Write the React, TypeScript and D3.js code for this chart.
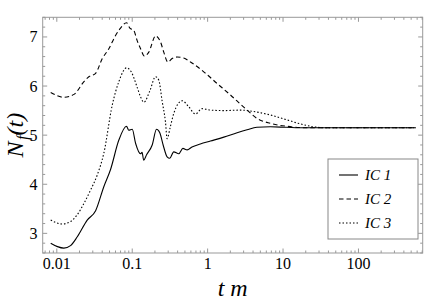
import React from "react";
import * as d3 from "d3";

const W = 425, H = 300;
const M = { left: 42.7, right: 422.7, top: 17.3, bottom: 253 };

const xDomain: [number, number] = [0.0065, 711];
const yDomain: [number, number] = [2.6, 7.4];
const xTickValues = [0.01, 0.1, 1, 10, 100];
const xTickLabels = ["0.01", "0.1", "1", "10", "100"];
const yTickValues = [3, 4, 5, 6, 7];
const legendLabels = ["IC 1", "IC 2", "IC 3"];

// IC 1 (solid)
const ic1: [number, number][] = [
  [0.0083, 2.8], [0.0102, 2.73], [0.0124, 2.7], [0.0152, 2.75], [0.0187, 2.93],
  [0.0253, 3.27], [0.0327, 3.46], [0.042, 3.95], [0.0516, 4.3], [0.0665, 4.9],
  [0.084, 5.18], [0.09, 5.1], [0.1, 5.12], [0.111, 4.83], [0.129, 4.62],
  [0.135, 4.65], [0.142, 4.49], [0.155, 4.6], [0.184, 4.8], [0.21, 5.12],
  [0.232, 5.05], [0.257, 4.8], [0.29, 4.56], [0.315, 4.53], [0.355, 4.66],
  [0.415, 4.62], [0.47, 4.73], [0.535, 4.7], [0.62, 4.76], [0.8, 4.82],
  [1.09, 4.88], [1.64, 4.96], [2.46, 5.05], [3.33, 5.11], [4.5, 5.16],
  [6.8, 5.17], [11, 5.16], [20, 5.15], [40, 5.15], [100, 5.15], [575, 5.15],
];

// IC 2 (dashed)
const ic2: [number, number][] = [
  [0.0083, 5.87], [0.0124, 5.77], [0.0169, 5.83], [0.0229, 6.09], [0.0266, 6.19],
  [0.0327, 6.26], [0.0401, 6.56], [0.049, 6.76], [0.0601, 7.03], [0.07, 7.18],
  [0.084, 7.29], [0.093, 7.18], [0.105, 7.13], [0.116, 6.93], [0.129, 6.76],
  [0.145, 6.61], [0.166, 6.69], [0.204, 7.02], [0.237, 6.9], [0.262, 6.69],
  [0.297, 6.49], [0.339, 6.56], [0.394, 6.59], [0.482, 6.57], [0.592, 6.49],
  [0.888, 6.29], [1.34, 6.05], [2.0, 5.82], [2.73, 5.63], [3.33, 5.51],
  [4.53, 5.34], [6.8, 5.24], [11.3, 5.18], [20.8, 5.15], [40, 5.15], [100, 5.15], [575, 5.15],
];

// IC 3 (dotted)
const ic3: [number, number][] = [
  [0.0083, 3.27], [0.0118, 3.19], [0.0152, 3.24], [0.0187, 3.38], [0.0229, 3.61],
  [0.028, 3.88], [0.0344, 4.19], [0.042, 4.63], [0.0543, 5.61], [0.0665, 6.09],
  [0.084, 6.37], [0.097, 6.29], [0.116, 5.98], [0.129, 5.78], [0.143, 5.67],
  [0.171, 5.9], [0.204, 6.19], [0.225, 6.12], [0.25, 5.68], [0.276, 5.27],
  [0.29, 4.93], [0.32, 5.17], [0.355, 5.44], [0.46, 5.7], [0.56, 5.58],
  [0.69, 5.43], [0.84, 5.54], [1.09, 5.51], [1.64, 5.5], [2.73, 5.51],
  [4.1, 5.48], [6.8, 5.41], [11.3, 5.31], [16.9, 5.23], [25.4, 5.17],
  [38, 5.15], [100, 5.15], [575, 5.15],
];

const series = [
  { data: ic1, dash: "none" },
  { data: ic2, dash: "4.5,3" },
  { data: ic3, dash: "1.5,2" },
];

const FF = `"Liberation Serif"`;

export default function App() {
  const x = d3.scaleLog().domain(xDomain).range([M.left, M.right]);
  const y = d3.scaleLinear().domain(yDomain).range([M.bottom, M.top]);
  const line = d3.line<[number, number]>().x((d) => x(d[0])).y((d) => y(d[1])).curve(d3.curveMonotoneX);

  const xMinor: number[] = [];
  for (let e = -3; e <= 2; e++) {
    for (let k = 2; k <= 9; k++) {
      const v = k * Math.pow(10, e);
      if (v > xDomain[0] && v < xDomain[1]) xMinor.push(v);
    }
  }
  const yMinor = d3.range(2.6, 7.41, 0.2).filter((v) => Math.abs(v - Math.round(v)) > 0.01);
  const tickColor = "#999";

  return (
    <svg width={W} height={H} style={{ position: "absolute", left: 0, top: 0 }}>
      <rect x={0} y={0} width={W} height={H} fill="#fff" />
      <defs>
        <clipPath id="clip">
          <rect x={M.left} y={M.top} width={M.right - M.left} height={M.bottom - M.top} />
        </clipPath>
      </defs>
      <rect x={M.left} y={M.top} width={M.right - M.left} height={M.bottom - M.top} fill="none" stroke={tickColor} />
      {xTickValues.map((v) => (
        <g key={"xt" + v}>
          <line x1={x(v)} x2={x(v)} y1={M.bottom} y2={M.bottom - 4.5} stroke={tickColor} />
          <line x1={x(v)} x2={x(v)} y1={M.top} y2={M.top + 4.5} stroke={tickColor} />
        </g>
      ))}
      {xMinor.map((v) => (
        <g key={"xm" + v}>
          <line x1={x(v)} x2={x(v)} y1={M.bottom} y2={M.bottom - 2.5} stroke={tickColor} />
          <line x1={x(v)} x2={x(v)} y1={M.top} y2={M.top + 2.5} stroke={tickColor} />
        </g>
      ))}
      {yTickValues.map((v) => (
        <g key={"yt" + v}>
          <line x1={M.left} x2={M.left + 4.5} y1={y(v)} y2={y(v)} stroke={tickColor} />
          <line x1={M.right} x2={M.right - 4.5} y1={y(v)} y2={y(v)} stroke={tickColor} />
        </g>
      ))}
      {yMinor.map((v) => (
        <g key={"ym" + v}>
          <line x1={M.left} x2={M.left + 2.5} y1={y(v)} y2={y(v)} stroke={tickColor} />
          <line x1={M.right} x2={M.right - 2.5} y1={y(v)} y2={y(v)} stroke={tickColor} />
        </g>
      ))}
      {xTickValues.map((v, i) => (
        <text key={"xl" + v} x={x(v)} y={269} textAnchor="middle" style={{ fontFamily: FF, fontSize: "16px" }}>
          {xTickLabels[i]}
        </text>
      ))}
      {yTickValues.map((v) => (
        <text key={"yl" + v} x={37.5} y={y(v) + 5.5} textAnchor="end" style={{ fontFamily: FF, fontSize: "16px" }}>
          {String(v)}
        </text>
      ))}
      <g clipPath="url(#clip)">
        {series.map((s, i) => (
          <path key={"s" + i} d={line(s.data) || ""} fill="none" stroke="#000" strokeWidth={1.1} strokeDasharray={s.dash} />
        ))}
      </g>
      <text x={(M.left + M.right) / 2} y={296} textAnchor="middle" style={{ fontFamily: FF, fontSize: "24px", fontStyle: "italic" }}>
        t m
      </text>
      <text transform={`translate(23, ${(M.top + M.bottom) / 2}) rotate(-90)`} textAnchor="middle" style={{ fontFamily: FF, fontSize: "24px", fontStyle: "italic" }}>
        N<tspan style={{ fontSize: "16px" }} dx={1.5} dy={5}>f</tspan><tspan dy={-5}>(t)</tspan>
      </text>
      <rect x={328} y={159} width={90} height={80} fill="#fff" stroke="#888" />
      {series.map((s, i) => (
        <g key={"lg" + i}>
          <line x1={339} x2={358} y1={175 + i * 24} y2={175 + i * 24} stroke="#000" strokeWidth={1.1} strokeDasharray={s.dash} />
          <text x={365} y={180 + i * 24} style={{ fontFamily: FF, fontSize: "15px", fontStyle: "italic" }}>
            {legendLabels[i]}
          </text>
        </g>
      ))}
    </svg>
  );
}
